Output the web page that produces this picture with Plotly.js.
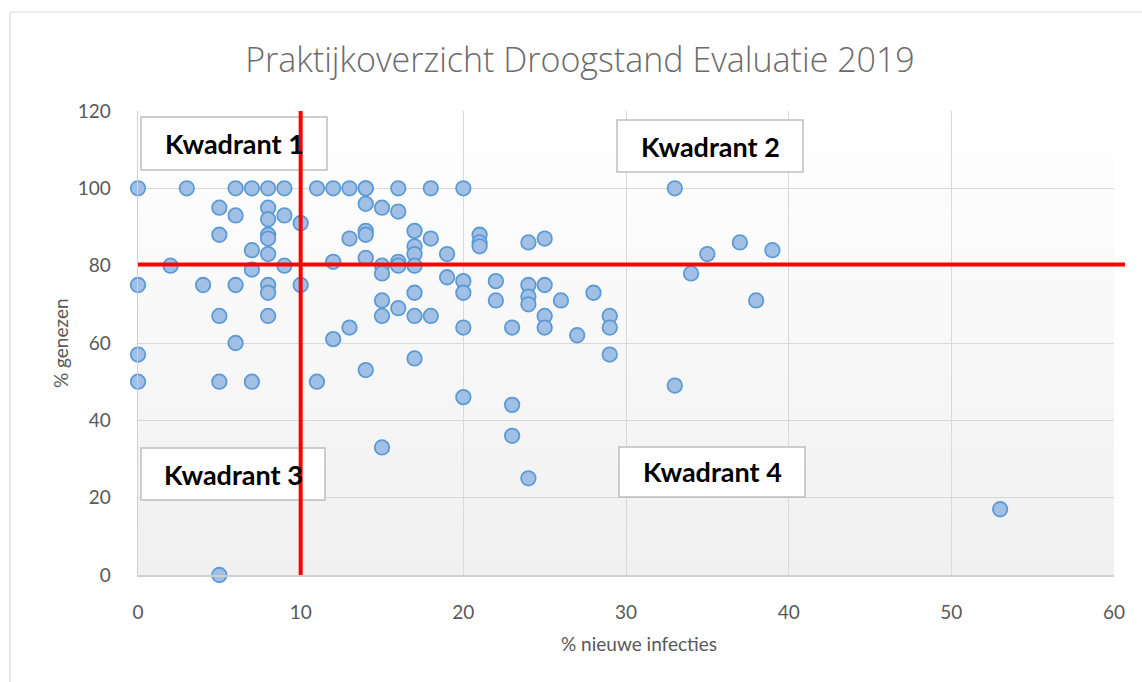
<!DOCTYPE html>
<html>
<head>
<meta charset="utf-8">
<script src="https://cdn.plot.ly/plotly-3.0.1.min.js"></script>
<style>html,body{margin:0;padding:0;background:#fff;}#chart{width:1142px;height:682px;}</style>
</head>
<body>
<div id="chart"></div>
<script>
// % nieuwe infecties (x) and % genezen (y) per praktijk
const nieuweInfecties = [
  0, 3, 6, 7, 8, 9, 11, 12, 13, 14, 14, 16, 18, 20, 33,
  5, 6, 8, 8, 9, 10, 5, 8, 8, 7, 8, 2, 7, 9, 0, 4, 6, 8, 8, 10, 5, 8, 6, 0, 0, 5, 7, 11, 5,
  14, 15, 16, 14, 14, 13, 17, 18, 17, 17, 19, 21, 21, 21, 12, 14, 15, 15, 16, 16, 17, 19, 20, 20, 22, 22, 15, 17, 16, 15, 17, 18, 20, 12, 13, 17, 14, 20, 15,
  24, 25, 24, 24, 24, 25, 26, 28, 25, 29, 23, 25, 27, 29, 29, 23, 23, 24,
  35, 37, 39, 34, 38, 33, 53
];
const genezen = [
  100, 100, 100, 100, 100, 100, 100, 100, 100, 100, 100, 100, 100, 100, 100,
  95, 93, 95, 92, 93, 91, 88, 88, 87, 84, 83, 80, 79, 80, 75, 75, 75, 75, 73, 75, 67, 67, 60, 57, 50, 50, 50, 50, 0,
  96, 95, 94, 89, 88, 87, 89, 87, 85, 83, 83, 88, 86, 85, 81, 82, 80, 78, 81, 80, 80, 77, 76, 73, 76, 71, 71, 73, 69, 67, 67, 67, 64, 61, 64, 56, 53, 46, 33,
  86, 87, 75, 72, 70, 75, 71, 73, 67, 67, 64, 64, 62, 64, 57, 44, 36, 25,
  83, 86, 84, 78, 71, 49, 17
];
const grensInfecties = 10;
const grensGenezen = 80.3;
const kwadrantLabels = ["Kwadrant 1", "Kwadrant 2", "Kwadrant 3", "Kwadrant 4"];
const xTicks = [0, 10, 20, 30, 40, 50, 60];
const yTicks = [0, 20, 40, 60, 80, 100, 120];

// layout helpers (pixel -> paper)
const L = 138, R = 28, T = 111, B = 107, W = 1142, H = 682;
const PW = W - L - R, PH = H - T - B;
const px = v => (v - L) / PW;
const py = v => (H - B - v) / PH;

const shapes = [];
// gradient plot background
const N = 60;
for (let i = 0; i < N; i++) {
  const c = Math.round(255 - (255 - 240) * (i + 0.5) / N);
  shapes.push({type: 'rect', xref: 'paper', yref: 'paper', x0: 0, x1: 1,
    y0: 1 - (i + 1) / N, y1: 1 - i / N + 0.0005, fillcolor: `rgb(${c},${c},${c})`,
    line: {width: 0}, layer: 'below'});
}
// outer frame
shapes.push({type: 'line', xref: 'paper', yref: 'paper', x0: px(10), x1: px(10), y0: py(12), y1: py(690), line: {color: '#d9d9d9', width: 1.2}});
shapes.push({type: 'line', xref: 'paper', yref: 'paper', x0: px(10), x1: px(1150), y0: py(12), y1: py(12), line: {color: '#d9d9d9', width: 1.2}});
// quadrant boxes
const boxes = [[141, 117, 327, 170], [617, 120, 803, 172], [141, 448, 325, 500], [619, 447, 805, 497]];
boxes.forEach(b => shapes.push({type: 'rect', xref: 'paper', yref: 'paper', x0: px(b[0]), x1: px(b[2]), y0: py(b[3]), y1: py(b[1]),
  fillcolor: '#ffffff', line: {color: '#bfbfbf', width: 1.5}, layer: 'above'}));
// threshold lines
shapes.push({type: 'line', xref: 'x', yref: 'paper', x0: grensInfecties, x1: grensInfecties, y0: 0, y1: 1, line: {color: '#ff0000', width: 4}, layer: 'above'});
shapes.push({type: 'line', xref: 'paper', yref: 'y', x0: 0, x1: px(1125), y0: grensGenezen, y1: grensGenezen, line: {color: '#ff0000', width: 4}, layer: 'above'});

const annotations = boxes.map((b, i) => ({
  xref: 'paper', yref: 'paper', x: px((b[0] + b[2]) / 2), y: py((b[1] + b[3]) / 2),
  xanchor: 'center', yanchor: 'middle', showarrow: false, text: '<b>' + kwadrantLabels[i] + '</b>',
  font: {family: 'Lato, "Open Sans", sans-serif', size: 27, color: '#000000'}
}));
annotations.push({xref: 'paper', yref: 'paper', x: px(639), y: py(643), xanchor: 'center', yanchor: 'middle', showarrow: false,
  text: '% nieuwe infecties', font: {family: 'Lato, "Open Sans", sans-serif', size: 19, color: '#595959'}});
annotations.push({xref: 'paper', yref: 'paper', x: px(60), y: py(343), xanchor: 'center', yanchor: 'middle', showarrow: false, textangle: -90,
  text: '% genezen', font: {family: 'Lato, "Open Sans", sans-serif', size: 19, color: '#595959'}});

const trace = {
  type: 'scatter', mode: 'markers', x: nieuweInfecties, y: genezen, cliponaxis: false,
  marker: {size: 14.5, color: '#a2c0e6', line: {color: '#5b9bd5', width: 1.8}},
  hoverinfo: 'x+y'
};

const layout = {
  width: W, height: H,
  margin: {l: L, r: R, t: T, b: B},
  paper_bgcolor: '#ffffff', plot_bgcolor: 'rgba(0,0,0,0)',
  showlegend: false,
  title: {text: 'Praktijkoverzicht Droogstand Evaluatie 2019', xref: 'container', yref: 'container', x: 580 / W, y: 1 - 60 / H,
    xanchor: 'center', yanchor: 'middle', font: {family: '"Open Sans", Lato, sans-serif', size: 34, color: '#6b6b6b', weight: 300}},
  xaxis: {range: [0, 60], tickvals: xTicks, ticktext: xTicks.map(String), showgrid: true, gridcolor: '#d9d9d9', gridwidth: 1,
    zeroline: false, showline: true, linecolor: '#d0d0d0', linewidth: 1.5, ticks: 'outside', ticklen: 20, tickcolor: 'rgba(0,0,0,0)',
    tickfont: {family: 'Lato, "Open Sans", sans-serif', size: 19, color: '#595959'}, fixedrange: true},
  yaxis: {range: [0, 120], tickvals: yTicks, ticktext: yTicks.map(String), showgrid: true, gridcolor: '#d9d9d9', gridwidth: 1,
    zeroline: false, showline: true, linecolor: '#d0d0d0', linewidth: 1.5, ticks: 'outside', ticklen: 22, tickcolor: 'rgba(0,0,0,0)',
    tickfont: {family: 'Lato, "Open Sans", sans-serif', size: 19, color: '#595959'}, fixedrange: true},
  shapes: shapes,
  annotations: annotations
};

Plotly.newPlot('chart', [trace], layout, {displayModeBar: false, staticPlot: true});
</script>
</body>
</html>
